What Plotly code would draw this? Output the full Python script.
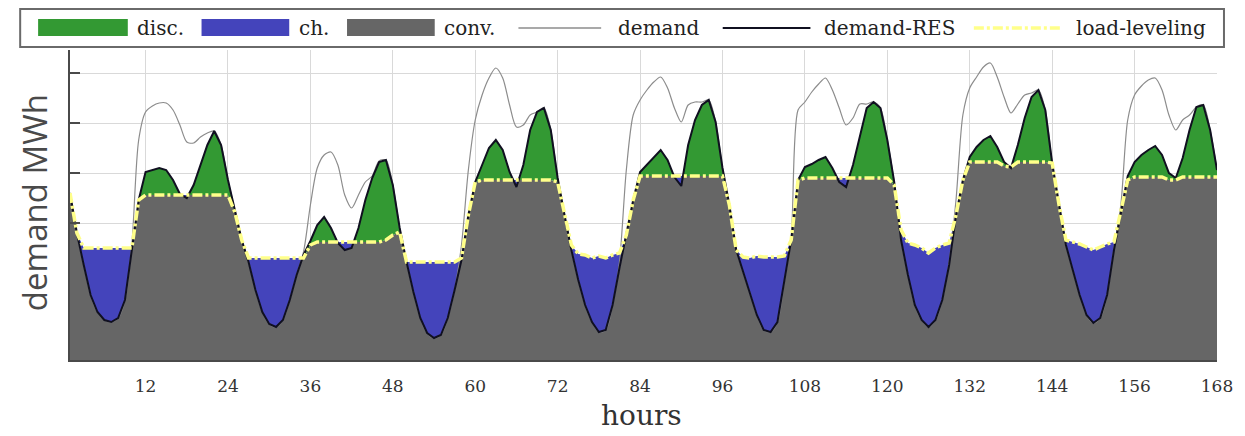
import numpy as np
import plotly.graph_objects as go

# ---------------- data (MWh, hourly, one week) ----------------
hours = list(range(1, 169))

demand_res = [
    # day 1
    4600, 3800, 3160, 2560, 2220, 2060, 2020, 2100, 2460, 3420, 4460, 5020, 5060, 5100, 5060, 4860, 4580, 4500, 4760, 5160, 5560, 5840, 5560, 4860,
    # day 2
    4260, 3660, 3220, 2660, 2220, 1980, 1920, 2060, 2460, 2960, 3360, 3640, 3960, 4120, 3900, 3600, 3460, 3500, 3900, 4460, 4900, 5220, 5260, 4760,
    # day 3
    3900, 3220, 2620, 2100, 1800, 1700, 1760, 2100, 2660, 3260, 4160, 4820, 5160, 5500, 5660, 5460, 5020, 4720, 5160, 5860, 6220, 6300, 5860, 4900,
    # day 4
    4160, 3460, 2860, 2360, 2020, 1820, 1860, 2360, 3100, 3760, 4460, 5020, 5160, 5320, 5460, 5260, 4920, 4740, 5560, 6060, 6360, 6460, 6020, 5100,
    # day 5
    4360, 3460, 3020, 2600, 2160, 1860, 1820, 2020, 2820, 3660, 4860, 5120, 5180, 5260, 5320, 5100, 4820, 4720, 5160, 5760, 6300, 6420, 6300, 5660,
    # day 6
    4820, 3660, 2960, 2360, 2060, 1920, 2060, 2460, 3160, 4160, 4860, 5320, 5520, 5660, 5740, 5520, 5220, 5100, 5560, 6100, 6520, 6660, 6260, 5200,
    # day 7
    4360, 3560, 3060, 2560, 2160, 2000, 2100, 2560, 3460, 4220, 4940, 5220, 5360, 5460, 5540, 5360, 5000, 4900, 5300, 5860, 6320, 6360, 5860, 5060,
]

load_leveling = [
    # day 1
    4600, 3800, 3500, 3500, 3500, 3500, 3500, 3500, 3500, 3500, 4460,
    4560, 4560, 4560, 4560, 4560, 4560, 4560, 4560, 4560, 4560, 4560, 4560, 4560,
    # day 2
    4220, 3660, 3300, 3300, 3300, 3300, 3300, 3300, 3300, 3300, 3300, 3560,
    3620, 3620, 3620, 3620, 3620, 3620, 3620, 3620, 3620, 3620, 3660, 3760,
    # day 3
    3820, 3220, 3220, 3220, 3220, 3220, 3220, 3220, 3220, 3300, 4160, 4820,
    4860, 4860, 4860, 4860, 4860, 4860, 4860, 4860, 4860, 4860, 4860, 4820,
    # day 4
    4160, 3560, 3380, 3360, 3300, 3340, 3300, 3360, 3400, 3760, 4460,
    4940, 4940, 4940, 4940, 4940, 4940, 4940, 4940, 4940, 4940, 4940, 4940, 4940,
    # day 5
    4360, 3460, 3320, 3300, 3340, 3320, 3320, 3320, 3340, 3660, 4860,
    4900, 4900, 4900, 4900, 4900, 4900, 4900, 4900, 4900, 4900, 4900, 4900, 4900,
    # day 6
    4760, 3860, 3600, 3560, 3500, 3400, 3500, 3560, 3600, 4160, 4860,
    5220, 5220, 5220, 5220, 5220, 5140, 5120, 5220, 5220, 5220, 5220, 5220, 5200,
    # day 7
    4360, 3660, 3620, 3580, 3520, 3460, 3520, 3580, 3620, 4220, 4860,
    4920, 4920, 4920, 4920, 4920, 4860, 4860, 4920, 4920, 4920, 4920, 4920, 4920,
]

demand = [
    # day 1
    4600, 3800, 3160, 2560, 2220, 2060, 2020, 2100, 2460, 3560, 5660, 6220, 6340, 6400, 6400, 6260, 5960, 5620, 5600, 5720, 5800, 5840, 5560, 4860,
    # day 2
    4260, 3660, 3220, 2660, 2220, 1980, 1920, 2060, 2460, 2960, 3420, 4360, 5100, 5360, 5420, 5160, 4560, 4300, 4560, 4820, 4940, 5240, 5260, 4760,
    # day 3
    3900, 3220, 2620, 2100, 1800, 1700, 1760, 2100, 2660, 3560, 5060, 6060, 6560, 6900, 7100, 6900, 6360, 5920, 5960, 6160, 6220, 6300, 5860, 4900,
    # day 4
    4160, 3460, 2860, 2360, 2020, 1820, 1860, 2360, 3220, 5060, 6160, 6460, 6660, 6820, 6920, 6700, 6300, 6020, 6360, 6420, 6420, 6460, 6020, 5100,
    # day 5
    4360, 3460, 3020, 2600, 2160, 1860, 1820, 2020, 2820, 3700, 6260, 6420, 6620, 6780, 6900, 6660, 6300, 5960, 6100, 6380, 6380, 6420, 6300, 5660,
    # day 6
    4820, 3660, 2960, 2360, 2060, 1920, 2060, 2460, 3220, 4460, 6160, 6700, 6920, 7120, 7200, 6920, 6520, 6200, 6380, 6560, 6600, 6660, 6260, 5200,
    # day 7
    4360, 3560, 3060, 2560, 2160, 2000, 2100, 2560, 3500, 4360, 6060, 6560, 6740, 6860, 6900, 6660, 6160, 5860, 6060, 6160, 6320, 6360, 5860, 5060,
]

x_ticks = list(range(12, 169, 12))
y_ticks = [4000, 5000, 6000, 7000]

# ---------------- styles ----------------
C_DISC = "#339933"
C_CH = "#4444bb"
C_CONV = "#666666"
C_DEM = "#8c8c8c"
C_RES = "#101020"
C_LL = "#ffff8a"
SERIF = "DejaVu Serif"

# ---------------- fill geometry (split segments where demand-RES crosses the leveling line) ----------------
x = np.array(hours, float)
d = np.array(demand_res, float)
lv = np.array(load_leveling, float)
xs, ds, ls = [x[0]], [d[0]], [lv[0]]
for i in range(len(x) - 1):
    a = d[i] - lv[i]
    b = d[i + 1] - lv[i + 1]
    if a * b < 0:
        t = a / (a - b)
        xc = x[i] + t * (x[i + 1] - x[i])
        dc = d[i] + t * (d[i + 1] - d[i])
        xs.append(xc); ds.append(dc); ls.append(dc)
    xs.append(x[i + 1]); ds.append(d[i + 1]); ls.append(lv[i + 1])
xs = np.array(xs); ds = np.array(ds); ls = np.array(ls)
lo = np.minimum(ds, ls)
hi = np.maximum(ds, ls)

fig = go.Figure()
fig.add_trace(go.Scatter(x=xs, y=lo, mode="lines", line=dict(width=0, color=C_CONV),
                         fill="tozeroy", fillcolor=C_CONV, name="conv.", hoverinfo="skip"))
fig.add_trace(go.Scatter(x=xs, y=ls, mode="lines", line=dict(width=0, color=C_CH),
                         fill="tonexty", fillcolor=C_CH, name="ch.", hoverinfo="skip"))
fig.add_trace(go.Scatter(x=xs, y=hi, mode="lines", line=dict(width=0, color=C_DISC),
                         fill="tonexty", fillcolor=C_DISC, name="disc.", hoverinfo="skip"))
fig.add_trace(go.Scatter(x=hours, y=demand, mode="lines",
                         line=dict(width=1.2, color=C_DEM, shape="spline", smoothing=0.8), name="demand"))
fig.add_trace(go.Scatter(x=hours, y=demand_res, mode="lines", line=dict(width=2, color=C_RES), name="demand-RES"))
fig.add_trace(go.Scatter(x=hours, y=load_leveling, mode="lines",
                         line=dict(width=3.5, color=C_LL, dash="10px,3px,3px,3px"), name="load-leveling"))

# ---------------- layout ----------------
W, H = 1245, 436
ML, MR, MT, MB = 70, 24, 50, 76
PW, PH = W - ML - MR, H - MT - MB


def px(xp):
    return (xp - ML) / PW


def py(yp):
    return (H - MB - yp) / PH


fig.update_layout(
    width=W, height=H, autosize=False,
    margin=dict(l=ML, r=MR, t=MT, b=MB),
    plot_bgcolor="white", paper_bgcolor="white",
    showlegend=False,
    xaxis=dict(range=[1, 168], tickvals=x_ticks, ticktext=[str(v) for v in x_ticks],
               showgrid=True, gridcolor="#d9d9d9", gridwidth=1, zeroline=False,
               showline=True, linecolor="#4a4a4a", linewidth=2, ticks="",
               ticklabelstandoff=10,
               tickfont=dict(family=SERIF, size=17, color="#333333")),
    yaxis=dict(range=[1260, 7460], tickvals=y_ticks, showticklabels=False,
               showgrid=True, gridcolor="#d9d9d9", gridwidth=1, zeroline=False,
               showline=True, linecolor="#4a4a4a", linewidth=2,
               ticks="inside", ticklen=10, tickcolor="#4a4a4a", tickwidth=1.5),
)

# axis titles
fig.add_annotation(text="hours", x=px(643), y=py(415), xref="paper", yref="paper",
                   showarrow=False, xanchor="center", yanchor="middle",
                   font=dict(family=SERIF, size=28, color="#333333"))
fig.add_annotation(text="demand MWh", x=px(34), y=py(203), xref="paper", yref="paper",
                   showarrow=False, xanchor="center", yanchor="middle", textangle=-90,
                   font=dict(family="Open Sans", size=33, color="#4a4a4a"))

# ---------------- legend (drawn) ----------------
shapes = [dict(type="rect", xref="paper", yref="paper", x0=px(20), x1=px(1228), y0=py(47), y1=py(9),
               line=dict(color="#6a6a6a", width=2), fillcolor="white", layer="above")]
leg_y0, leg_y1, leg_mid = 19, 36, 28
for (x0, x1, col) in [(38, 128, C_DISC), (202, 290, C_CH), (348, 436, C_CONV)]:
    shapes.append(dict(type="rect", xref="paper", yref="paper", x0=px(x0), x1=px(x1),
                       y0=py(leg_y1), y1=py(leg_y0), line=dict(width=0), fillcolor=col, layer="above"))
shapes.append(dict(type="line", xref="paper", yref="paper", x0=px(520), x1=px(603), y0=py(leg_mid), y1=py(leg_mid),
                   line=dict(color=C_DEM, width=1.5), layer="above"))
shapes.append(dict(type="line", xref="paper", yref="paper", x0=px(725), x1=px(813), y0=py(leg_mid), y1=py(leg_mid),
                   line=dict(color=C_RES, width=2), layer="above"))
shapes.append(dict(type="line", xref="paper", yref="paper", x0=px(977), x1=px(1066), y0=py(leg_mid), y1=py(leg_mid),
                   line=dict(color=C_LL, width=3.5, dash="10px,3px,3px,3px"), layer="above"))
fig.update_layout(shapes=shapes)

for (xl, txt) in [(135, "disc."), (298, "ch."), (443, "conv."), (618, "demand"),
                  (825, "demand-RES"), (1077, "load-leveling")]:
    fig.add_annotation(text=txt, x=px(xl), y=py(leg_mid), xref="paper", yref="paper",
                       showarrow=False, xanchor="left", yanchor="middle",
                       font=dict(family=SERIF, size=20, color="#222222"))

fig.write_html("out.html")
